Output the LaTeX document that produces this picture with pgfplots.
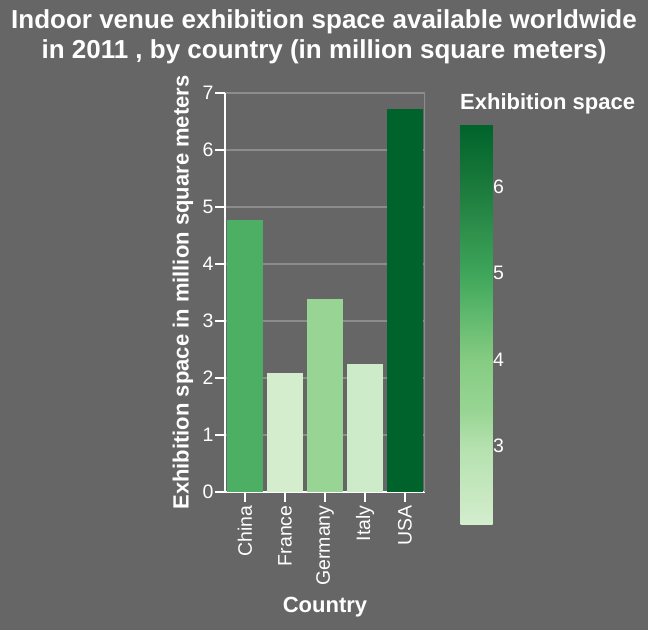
\documentclass[border=0pt]{standalone}
\usepackage{pgfplots}
\pgfplotsset{compat=1.18}
\usepackage{fontspec}
\setmainfont{Liberation Sans}

\definecolor{bg}{RGB}{102,102,102}
\definecolor{gridgray}{RGB}{140,140,140}
\definecolor{cChina}{RGB}{76,175,99}
\definecolor{cFrance}{RGB}{211,237,205}
\definecolor{cGermany}{RGB}{152,213,148}
\definecolor{cItaly}{RGB}{205,235,200}
\definecolor{cUSA}{RGB}{0,99,43}

\begin{document}
\begin{tikzpicture}[x=1pt,y=1pt]
\fill[bg] (0,0) rectangle (648,630);
\node[font=\fontsize{26}{30}\selectfont\bfseries, text=white, align=center] at (324,593)
  {Indoor venue exhibition space available worldwide\\in 2011 , by country (in million square meters)};
\begin{axis}[
    at={(225pt,138pt)}, anchor=south west,
    scale only axis, width=200pt, height=399pt,
    xmin=-0.5, xmax=4.5, ymin=0, ymax=7,
    xtick={0,1,2,3,4},
    xticklabels={China,France,Germany,Italy,USA},
    ytick={0,1,2,3,4,5,6,7},
    ymajorgrids,
    grid style={draw=gridgray, line width=1.5pt},
    axis x line*=bottom, axis y line*=left,
    axis line style={white, line width=1.5pt, -},
    tick style={white, line width=1.5pt},
    major tick length=10pt, tick align=outside,
    ticklabel style={font=\fontsize{19.5}{22}\selectfont, text=white},
    xticklabel style={rotate=90, anchor=east},
    yticklabel style={xshift=2pt},
    /pgf/number format/assume math mode=true,
    xlabel={Country},
    ylabel={Exhibition space in million square meters},
    label style={font=\fontsize{22}{26}\selectfont\bfseries, text=white},
    xlabel style={at={(axis description cs:0.5,-0.288)}, anchor=center},
    ylabel style={at={(axis description cs:-0.21,0.5)}, anchor=center},
    colormap={greensmap}{rgb255(0pt)=(211,237,205) rgb255(90pt)=(180,225,174)
      rgb255(130pt)=(152,213,148) rgb255(190pt)=(133,204,130) rgb255(268pt)=(76,175,99)
      rgb255(290pt)=(63,165,90) rgb255(390pt)=(27,122,60) rgb255(462pt)=(0,99,43)},
    point meta min=2.1, point meta max=6.72,
    colorbar,
    colorbar/width=32pt,
    colorbar style={
      at={(parent axis.south east)}, anchor=south west,
      xshift=27pt, yshift=-32pt,
      scale only axis, width=32pt, height=400pt,
      ytick={3,4,5,6}, yticklabel pos=right,
      axis line style={draw=none},
      ytick style={draw=none},
      yticklabel style={font=\fontsize{19.5}{22}\selectfont, text=white, xshift=-3pt},
      /pgf/number format/assume math mode=true,
    },
]
\addplot[ybar, bar width=0.9, bar shift=0pt, fill=cChina, draw=none] coordinates {(0,4.77)};
\addplot[ybar, bar width=0.9, bar shift=0pt, fill=cFrance, draw=none] coordinates {(1,2.09)};
\addplot[ybar, bar width=0.9, bar shift=0pt, fill=cGermany, draw=none] coordinates {(2,3.39)};
\addplot[ybar, bar width=0.9, bar shift=0pt, fill=cItaly, draw=none] coordinates {(3,2.24)};
\addplot[ybar, bar width=0.9, bar shift=0pt, fill=cUSA, draw=none] coordinates {(4,6.72)};
\draw[gridgray, line width=1.5pt] (axis cs:4.5,0) -- (axis cs:4.5,7);
\end{axis}
\node[font=\fontsize{22}{26}\selectfont\bfseries, text=white, anchor=base west, inner sep=0pt] at (460,520) {Exhibition space};
\pgfresetboundingbox
\useasboundingbox (0,0) rectangle (648,630);
\end{tikzpicture}
\end{document}
